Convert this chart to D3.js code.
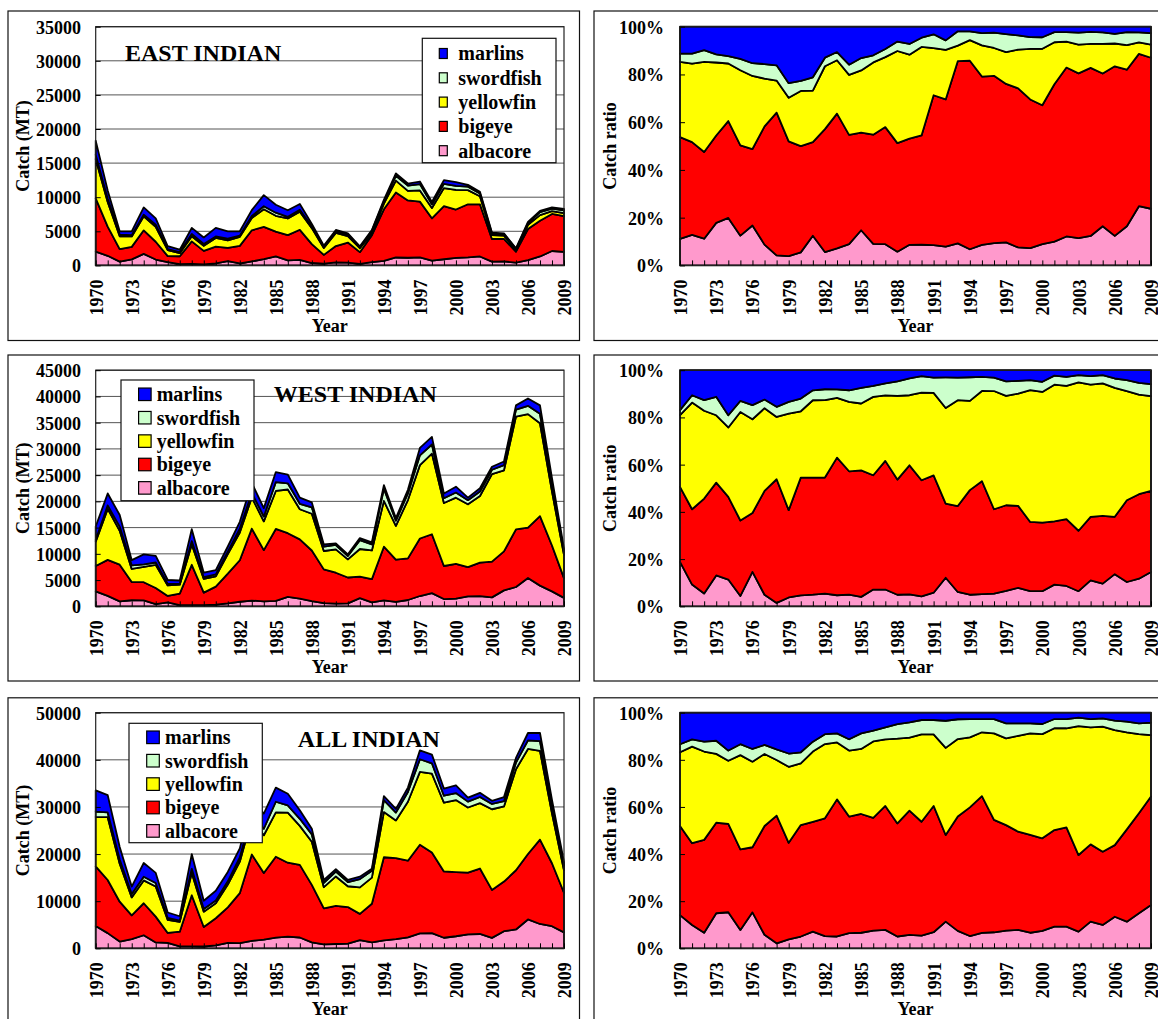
<!DOCTYPE html>
<html><head><meta charset="utf-8">
<script src="https://cdn.jsdelivr.net/npm/d3@7"></script>
<style>
html,body{margin:0;padding:0;background:#fff;}
svg{display:block;}
text{font-family:"Liberation Serif","Times New Roman",Times,serif;font-weight:bold;fill:#000;}
</style></head><body>
<svg id="chart" width="1158" height="1019"></svg>
<script>
// ---------------- DATA ----------------
const yearList = [1970,1971,1972,1973,1974,1975,1976,1977,1978,1979,1980,1981,1982,1983,1984,1985,1986,1987,1988,1989,
                  1990,1991,1992,1993,1994,1995,1996,1997,1998,1999,2000,2001,2002,2003,2004,2005,2006,2007,2008,2009];
const labelYears = [1970,1973,1976,1979,1982,1985,1988,1991,1994,1997,2000,2003,2006,2009];
const species = ["albacore","bigeye","yellowfin","swordfish","marlins"];
const legendOrder = ["marlins","swordfish","yellowfin","bigeye","albacore"];
const speciesColors = ["#FF99CC","#FF0000","#FFFF00","#CCFFCC","#0000FF"];

const eastTicks = [0,5000,10000,15000,20000,25000,30000,35000];
const westTicks = [0,5000,10000,15000,20000,25000,30000,35000,40000,45000];
const allTicks  = [0,10000,20000,30000,40000,50000];
const ratioTicks = [0,0.2,0.4,0.6,0.8,1];

// East Indian catch (MT)
const eastAlbacore  = [2030,1410,560,890,1690,860,470,200,230,160,300,620,280,580,920,1310,730,800,350,250,450,400,220,480,650,1160,1120,1190,700,900,1090,1180,1310,550,580,410,790,1310,2110,1970];
const eastBigeye    = [7800,4270,1820,1830,3450,2610,900,1140,3290,1970,2450,1960,2580,4570,4720,3640,3700,4420,2770,1290,2380,2950,1720,3960,7580,9520,8410,8160,6200,7790,7100,7780,7650,3320,3310,1600,4540,5240,5430,5250];
const eastYellowfin = [5780,3620,1890,1530,2050,2170,860,460,740,750,1270,1080,1320,1810,2590,2320,2450,2640,2350,1020,1930,930,580,340,830,1760,1400,1640,1510,2650,2890,2080,1170,580,470,310,610,820,410,460];
const eastSwordfish = [620,460,250,170,260,330,150,140,350,250,230,280,180,280,440,460,240,310,240,130,200,270,110,310,350,700,770,930,550,610,590,500,430,240,240,120,260,440,360,400];
const eastMarlins   = [2070,1240,490,580,1050,930,430,360,890,970,1250,1060,650,860,1640,1170,970,840,380,210,240,150,160,100,190,360,300,380,340,550,540,270,250,120,100,60,190,180,200,220];

// West Indian catch (MT)
const westAlbacore  = [2860,1980,940,1150,1120,420,730,240,210,240,320,560,870,1100,920,1020,1780,1470,970,600,500,570,1570,740,1130,860,1200,1960,2520,1380,1460,1900,1940,1700,3040,3680,5390,3940,2850,1600];
const westBigeye    = [4830,6860,7000,3460,3470,3070,1250,2160,7700,2370,3440,5650,7910,13700,9780,13720,12150,11280,9660,6440,5900,4920,4080,4440,10230,8050,7930,10960,11210,6300,6630,5550,6370,6810,7420,10990,9620,13250,8740,3780];
const westYellowfin = [4610,9720,6470,2510,2910,4410,1990,1720,3880,2620,1940,3740,5280,5950,5500,7240,8330,5750,7010,3500,4450,3460,5270,5470,8730,6420,11120,13980,15370,12000,12610,11990,12710,16700,15460,21490,21620,17690,10300,4410];
const westSwordfish = [330,670,780,690,510,450,300,180,630,320,370,480,740,850,920,1690,1180,1040,1230,840,840,640,1680,1170,2310,1010,1270,1870,1740,920,980,790,860,820,990,1340,1580,1800,1200,560];
const westMarlins   = [2570,2280,2210,990,1890,1250,740,610,2280,860,830,970,1300,1900,1590,1920,1660,1160,930,410,300,310,400,380,690,470,690,1420,1450,900,1120,480,630,560,690,800,1390,1610,1320,650];

// All Indian catch (MT)
const allAlbacore  = [4720,3220,1420,1950,2770,1250,1160,390,420,380,610,1150,1100,1580,1830,2250,2460,2290,1270,830,910,990,1720,1250,1680,1950,2320,3150,3210,2240,2560,2940,3040,2220,3630,4000,6120,5160,4690,3370];
const allBigeye    = [12660,11280,8470,5030,6790,5470,2100,3140,10840,4140,5770,7550,10600,18330,14160,17190,15710,15410,12190,7640,8110,7770,5590,8200,17640,17170,16270,18820,17140,14070,13600,13120,13890,10170,10530,12560,13890,17910,13360,8420];
const allYellowfin = [10490,13330,8060,3830,4850,6400,2760,2080,4720,3260,3200,4830,6680,7620,8010,9410,10630,8290,9140,4500,6230,4410,5620,5560,9590,8020,12510,15460,16730,14610,15290,13820,13890,17120,15950,21450,22300,18830,10580,4780];
const allSwordfish = [1140,1010,900,730,780,740,410,260,900,570,570,680,890,1200,1370,2250,1510,1490,1570,940,1020,880,1750,1420,2520,1660,2080,2690,2180,1460,1490,1250,1290,1130,1120,1410,1830,2060,1450,970];
const allMarlins   = [4490,3670,2640,1560,2910,2140,1170,930,3120,1750,2050,1990,1930,2770,3230,3000,2490,1820,1220,590,520,450,520,470,870,800,920,1890,1850,1530,1660,860,890,660,870,970,1550,1740,1420,770];

// ---------------- BUILD ----------------
function table(a,b,y,s,m){
  return yearList.map((yr,i)=>({year:yr, albacore:a[i], bigeye:b[i], yellowfin:y[i], swordfish:s[i], marlins:m[i]}));
}
const color = d3.scaleOrdinal().domain(species).range(speciesColors);

const regions = [
  {title:"EAST INDIAN", rows: table(eastAlbacore,eastBigeye,eastYellowfin,eastSwordfish,eastMarlins), ticks: eastTicks},
  {title:"WEST INDIAN", rows: table(westAlbacore,westBigeye,westYellowfin,westSwordfish,westMarlins), ticks: westTicks},
  {title:"ALL INDIAN",  rows: table(allAlbacore,allBigeye,allYellowfin,allSwordfish,allMarlins), ticks: allTicks}
];

// layout (pixels)
const layout = [
  {boxTop:11, boxBottom:340.5, plotTop:26.7, plotBottom:265.4, titleX:125, titleY:60.7,
   leg:{x:422.3,y:38.3,w:133.7,h:124.4,sw:8,sh:10,swx:17,tx:36,c0:15.2,step:24.3}},
  {boxTop:355, boxBottom:681, plotTop:370.2, plotBottom:606.3, titleX:273.8, titleY:401.7,
   leg:{x:121,y:380,w:133,h:120.7,sw:12.5,sh:12.5,swx:17.6,tx:35.7,c0:14.3,step:23.4}},
  {boxTop:697.8, boxBottom:1030, plotTop:712.7, plotBottom:948.3, titleX:297.8, titleY:747.3,
   leg:{x:129,y:723.3,w:133.3,h:119.4,sw:12.6,sh:12.6,swx:17.7,tx:36,c0:14,step:23.4}}
];
const leftPanel  = {boxX:8,   boxR:579.5, plotL:95.7, plotR:564,  yTitleX:23,  yTitle:"Catch (MT)", pad:14.7};
const rightPanel = {boxX:594, boxR:1162,  plotL:680,  plotR:1151, yTitleX:610, yTitle:"Catch ratio", pad:16};

const svg = d3.select("#chart");
svg.append("rect").attr("width",1158).attr("height",1019).attr("fill","#fff");
const FONT = '"Liberation Serif","Times New Roman",Times,serif';

function drawPanel(region, lay, P, isRatio){
  const g = svg.append("g");
  g.append("rect").attr("x",P.boxX).attr("y",lay.boxTop)
    .attr("width",P.boxR-P.boxX).attr("height",lay.boxBottom-lay.boxTop)
    .attr("fill","#fff").attr("stroke","#111").attr("stroke-width",1.2);

  const x = d3.scaleLinear().domain([1970,2009]).range([P.plotL,P.plotR]);
  const yMax = isRatio ? 1 : region.ticks[region.ticks.length-1];
  const y = d3.scaleLinear().domain([0,yMax]).range([lay.plotBottom, lay.plotTop]);
  const ticks = isRatio ? ratioTicks : region.ticks;

  if(!isRatio){
    g.append("g").selectAll("line").data(ticks).join("line")
      .attr("x1",P.plotL).attr("x2",P.plotR)
      .attr("y1",d=>y(d)).attr("y2",d=>y(d))
      .attr("stroke","#555").attr("stroke-width",1);
  }

  const stack = d3.stack().keys(species);
  if(isRatio) stack.offset(d3.stackOffsetExpand);
  const series = stack(region.rows);
  const area = d3.area().x(d=>x(d.data.year)).y0(d=>y(d[0])).y1(d=>y(d[1]));
  g.append("g").selectAll("path").data(series).join("path")
    .attr("d",area).attr("fill",d=>color(d.key))
    .attr("stroke","#000").attr("stroke-width",1.8).attr("stroke-linejoin","round");

  g.append("rect").attr("x",P.plotL).attr("y",lay.plotTop)
    .attr("width",P.plotR-P.plotL).attr("height",lay.plotBottom-lay.plotTop)
    .attr("fill","none").attr("stroke","#222").attr("stroke-width",1.2);

  // x axis
  const xAxis = d3.axisBottom(x).tickValues(yearList).tickSize(-5)
    .tickFormat(v => labelYears.includes(v) ? String(v) : "");
  const gx = g.append("g").attr("transform",`translate(0,${lay.plotBottom})`).call(xAxis);
  gx.select(".domain").remove();
  gx.selectAll("line").attr("stroke","#000").attr("stroke-width",1);
  gx.selectAll("text").attr("transform","rotate(-90)").attr("text-anchor","end")
    .attr("x",-14).attr("y",0).attr("dy","0.36em")
    .style("font-size","18px").style("font-family",FONT).style("font-weight","bold");

  // y axis
  const yAxis = d3.axisLeft(y).tickValues(ticks).tickSize(-5).tickPadding(P.pad)
    .tickFormat(isRatio ? d3.format(".0%") : d3.format("d"));
  const gy = g.append("g").attr("transform",`translate(${P.plotL},0)`).call(yAxis);
  gy.select(".domain").remove();
  gy.selectAll("line").attr("stroke","#000").attr("stroke-width",1);
  gy.selectAll("text").attr("dy","0.36em")
    .style("font-size","18px").style("font-family",FONT).style("font-weight","bold");

  // axis titles
  g.append("text").attr("x",(P.plotL+P.plotR)/2).attr("y",lay.plotBottom+67)
    .attr("text-anchor","middle").style("font-size","18px").style("font-family",FONT).text("Year");
  g.append("text").attr("transform",`translate(${P.yTitleX},${(lay.plotTop+lay.plotBottom)/2}) rotate(-90)`)
    .attr("text-anchor","middle").attr("dy","0.36em").style("font-size","18px").style("font-family",FONT).text(P.yTitle);

  if(!isRatio){
    const L = lay.leg;
    const lg = g.append("g");
    lg.append("rect").attr("x",L.x).attr("y",L.y).attr("width",L.w).attr("height",L.h)
      .attr("fill","#fff").attr("stroke","#111").attr("stroke-width",1.2);
    legendOrder.forEach((k,i)=>{
      const cy = L.y + L.c0 + i*L.step;
      lg.append("rect").attr("x",L.x+L.swx).attr("y",cy-L.sh/2).attr("width",L.sw).attr("height",L.sh)
        .attr("fill",color(k)).attr("stroke","#000").attr("stroke-width",1.2);
      lg.append("text").attr("x",L.x+L.tx).attr("y",cy).attr("dy","0.34em")
        .style("font-size","20px").style("font-family",FONT).text(k);
    });
    g.append("text").attr("x",lay.titleX).attr("y",lay.titleY)
      .style("font-size","24px").style("font-family",FONT).text(region.title);
  }
}

regions.forEach((r,i)=>{
  drawPanel(r, layout[i], leftPanel, false);
  drawPanel(r, layout[i], rightPanel, true);
});
</script>
</body></html>
